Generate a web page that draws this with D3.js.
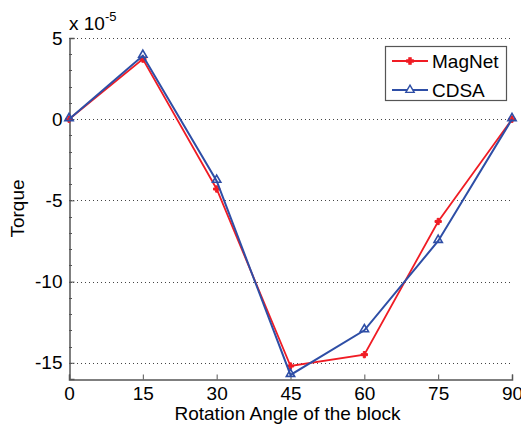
<!DOCTYPE html>
<html>
<head>
<meta charset="utf-8">
<script src="https://cdn.jsdelivr.net/npm/d3@7"></script>
<style>
  body { margin: 0; background: #fff; }
  svg { display: block; font-family: Arial, "Liberation Sans", sans-serif; }
</style>
</head>
<body>
<svg class="chart" width="521" height="428"></svg>
<script>
// Torque vs rotation angle

var angles = [0, 15, 30, 45, 60, 75, 90];
var magnet = [0, 3.7, -4.3, -15.2, -14.5, -6.3, 0];
var cdsa = [0, 3.9, -3.8, -15.75, -13.0, -7.5, 0];
var xTicks = [0, 15, 30, 45, 60, 75, 90];
var yTicks = [5, 0, -5, -10, -15];

var svg = d3.select(".chart");

var pLeft = 69, pRight = 512, pTop = 38, pBottom = 379;

var x = d3.scaleLinear().domain([0, 90]).range([pLeft, pRight]);
var y = d3.scaleLinear().domain([-16, 5]).range([pBottom, pTop]);

// dotted grid lines at major y ticks
svg.selectAll(".grid")
    .data(yTicks)
    .enter().append("line")
    .attr("class", "grid")
    .attr("x1", pLeft)
    .attr("x2", pRight)
    .attr("y1", d => Math.round(y(d)) + 0.5)
    .attr("y2", d => Math.round(y(d)) + 0.5)
    .attr("stroke", "#444")
    .attr("stroke-width", 1)
    .attr("stroke-dasharray", "1,3");

// minor ticks on y
var minor = d3.range(-16, 6, 1);
svg.selectAll(".minor")
    .data(minor)
    .enter().append("line")
    .attr("x1", pLeft)
    .attr("x2", pLeft + 3)
    .attr("y1", d => Math.round(y(d)) + 0.5)
    .attr("y2", d => Math.round(y(d)) + 0.5)
    .attr("stroke", "#555");

// y axis
svg.append("g")
    .attr("transform", "translate(" + (pLeft + 0.5) + ",0)")
    .call(d3.axisLeft(y).tickValues(yTicks).tickSize(-5).tickPadding(7)
        .tickFormat(d => String(d)))
    .call(g => g.select(".domain").attr("stroke", "#555").attr("stroke-width", 1.5))
    .call(g => g.selectAll(".tick line").attr("stroke", "#555"))
    .selectAll("text")
    .attr("fill", "#000")
    .attr("font-size", "19px");

// x axis
svg.append("g")
    .attr("transform", "translate(0," + (pBottom + 0.5) + ")")
    .call(d3.axisBottom(x).tickValues(xTicks).tickSize(-5).tickPadding(7))
    .call(g => g.select(".domain").attr("stroke", "#555").attr("stroke-width", 1.5))
    .call(g => g.selectAll(".tick line").attr("stroke", "#555"))
    .selectAll("text")
    .attr("fill", "#000")
    .attr("font-size", "19px");

// axis labels
svg.append("text")
    .attr("x", (pLeft + pRight) / 2 - 3)
    .attr("y", 420)
    .attr("text-anchor", "middle")
    .attr("font-size", "19px")
    .text("Rotation Angle of the block");

svg.append("text")
    .attr("transform", "translate(24," + ((pTop + pBottom) / 2) + ") rotate(-90)")
    .attr("text-anchor", "middle")
    .attr("font-size", "19px")
    .text("Torque");

// exponent label
var expo = svg.append("text")
    .attr("x", 69)
    .attr("y", 30)
    .attr("font-size", "19px");
expo.append("tspan").text("x 10");
expo.append("tspan").attr("dy", -9).attr("font-size", "13px").text("-5");

var line = d3.line()
    .x((d, i) => x(angles[i]))
    .y(d => y(d));

// MagNet series
svg.append("path")
    .datum(magnet)
    .attr("fill", "none")
    .attr("stroke", "#f01c24")
    .attr("stroke-width", 1.8)
    .attr("d", line);

svg.selectAll(".mag")
    .data(magnet)
    .enter().append("path")
    .attr("class", "mag")
    .attr("transform", (d, i) => "translate(" + x(angles[i]) + "," + y(d) + ")")
    .attr("d", d3.symbol().type(d3.symbolCross).size(22))
    .attr("fill", "#f01c24")
    .attr("stroke", "#f01c24")
    .attr("stroke-width", 1);

// CDSA series
svg.append("path")
    .datum(cdsa)
    .attr("fill", "none")
    .attr("stroke", "#2e4ea6")
    .attr("stroke-width", 2)
    .attr("d", line);

svg.selectAll(".cdsa")
    .data(cdsa)
    .enter().append("path")
    .attr("class", "cdsa")
    .attr("transform", (d, i) => "translate(" + x(angles[i]) + "," + (y(d) - 1) + ")")
    .attr("d", d3.symbol().type(d3.symbolTriangle).size(30))
    .attr("fill", "none")
    .attr("stroke", "#2e4ea6")
    .attr("stroke-width", 1.6);

// legend
var legend = svg.append("g");
legend.append("rect")
    .attr("x", 385.5)
    .attr("y", 46.5)
    .attr("width", 121)
    .attr("height", 54)
    .attr("fill", "#fff")
    .attr("stroke", "#555")
    .attr("stroke-width", 1.2);

var items = [
    { name: "MagNet", color: "#f01c24", sym: d3.symbolCross, fill: "#f01c24", size: 22 },
    { name: "CDSA", color: "#2e4ea6", sym: d3.symbolTriangle, fill: "#fff", size: 30 }
];
items.forEach(function (it, i) {
    var cy = 61 + i * 29;
    legend.append("line")
        .attr("x1", 392).attr("x2", 428)
        .attr("y1", cy).attr("y2", cy)
        .attr("stroke", it.color)
        .attr("stroke-width", 1.8);
    legend.append("path")
        .attr("transform", "translate(410," + cy + ")")
        .attr("d", d3.symbol().type(it.sym).size(it.size))
        .attr("fill", it.fill)
        .attr("stroke", it.color)
        .attr("stroke-width", 1.4);
    legend.append("text")
        .attr("x", 432)
        .attr("y", cy + 7)
        .attr("font-size", "19px")
        .text(it.name);
});
</script>
</body>
</html>
